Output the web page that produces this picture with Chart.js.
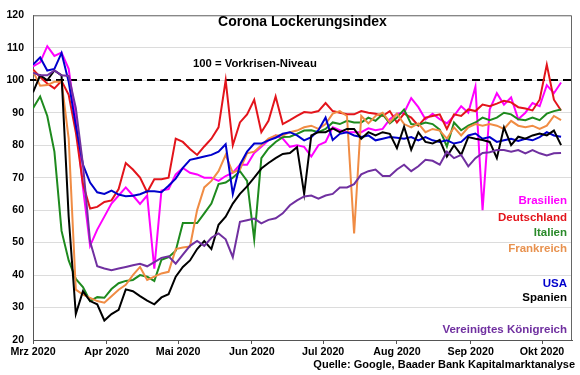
<!DOCTYPE html>
<html>
<head>
<meta charset="utf-8">
<script src="https://cdn.jsdelivr.net/npm/chart.js@4/dist/chart.umd.min.js"></script>
<style>
html,body{margin:0;padding:0;background:#fff;}
#wrap{width:580px;height:375px;position:relative;}
</style>
</head>
<body>
<div id="wrap"><canvas id="c" width="580" height="375"></canvas></div>
<script>
// Days since 1 March 2020
const days = [0,3,6,9,12,15,18,21,24,27,30,33,36,39,42,45,48,51,54,57,60,63,66,69,72,75,78,81,84,87,90,93,96,99,102,105,108,111,114,117,120,123,126,129,132,135,138,141,144,147,150,153,156,159,162,165,168,171,174,177,180,183,186,189,192,195,198,201,204,207,210,213,216,219,222];

const brasilien = [104.3,105.5,110.5,107.5,108.5,103.5,88,67,49,54,58,62,64.5,67,64.5,61.9,64.5,42,66,66.5,71,73,71.5,71,70,70,69,70.5,71.5,74,74,77.6,79.5,81.5,83,82,79.5,80,79.5,76.5,80,81,85.5,84.6,84,84,84,85.2,84.6,85,88,89.7,90,94.5,91.7,88,89.7,88,86.7,89,92,90,98,60,91,96,92.5,94.7,88,90,93,92,98.5,96,99.3];
const deutschland = [103.3,101,99,97.5,99.8,95.5,84,68,60.5,61,62.5,63,66.5,74.5,72.5,70,65.5,69.5,69.5,70,82,81,78.8,77,79.6,82,85.5,100,80,87,89.5,94,84,87.5,95,86.5,87.7,89,90.2,90,90.5,93,90.5,90,89.5,89.5,90.5,90,89.7,89,90.5,87,89.7,88.5,86,88.5,89,89.5,85,89.5,89,91,90.5,92.5,92,92.8,93.7,93.2,91.7,91.3,90.7,94,104.8,94,90.7];
const italien = [91.4,95,89,78,53.6,44.5,38.8,36.3,32,33.2,33,35.7,37.5,38.2,38.5,40,39.5,38.2,44.7,45.5,47.5,56,56,56,59,62,68,68.5,70,72,69,51,76,79,81,82.5,82.6,83.5,84.5,84.6,84,85,87,86.5,87.5,87,87,88.5,87.5,89.5,86.7,88.5,91,86.5,86.2,87,86.5,84.8,79.6,87,84.6,86,87,88.5,87.7,88.5,90,89.5,88,87.7,88.5,87.7,89.7,90.5,91];
const frankreich = [102.8,98.3,98.5,99.5,99.5,82,35.5,34,33,32,31.5,33.5,35.5,37,40,42.5,38.5,39.5,40.5,41,48,48.5,48.8,60,67,69,72,77,71.5,72.5,77.5,78,80,82,83,83,84,84.5,85.5,86,85,86.5,89.7,90.5,89,52.8,89,86.7,89,90,87,89.7,86.5,85.5,86.7,84,85,84.5,82,85.5,83,85.5,86.5,86,86.5,86,85,87.5,86,85.5,86,85,86,89,87.7];
const usa = [104.8,107,103,103.5,108.4,99.5,86,74,68.5,65.5,65,66,64.8,64.3,64.4,64.9,65.8,65.8,65.5,67.5,69.7,73,75.5,76,76.5,77,78,80.3,65,74,78,80.5,80.5,81.5,82.3,83.5,84,83,81.5,82.5,84.6,88.5,81.6,83.5,84,83,82.5,83,81.5,82,82.5,82.3,82,82.5,81.5,82.5,81.5,81,81.5,80.5,81,83,83.6,82,82.5,81,81.5,82,81.3,82,81.5,82.5,84,83,82.6];
const spanien = [96.3,101.5,100,103,101.5,58,28,35,32,31,26,28,29.3,35.6,35,33.5,32.1,31,33.1,34.1,39.5,42.5,44.5,48,50.5,48,55.5,58,62,65,67.3,70,72.8,74.5,76,77.3,77.6,79.4,65,83,84,84,85.2,84,85,85,82,84,83,84,83.5,79.1,85.7,78.6,84,81,80.5,81.6,76.5,80,77,82.5,82,81.6,81,76,85.5,80,82.6,82,83,83.6,83,84.5,80];
const vk = [102.3,101.5,101.5,103,101.5,101.3,91.5,74,50.3,42.7,42,41.5,42,42.5,43,43.5,42.7,44,45.3,45.8,43.5,46.3,49,50.5,49,51.5,52.8,51,45.5,56.4,56.9,57.4,55.9,57,57.5,59,61.5,63,64.2,64.5,63.5,64.5,65,67,67,68,71,72,72.5,70.5,70.5,72.5,74,72,73.5,75.5,75.2,74,78,76,77,73.5,76,77.6,77.8,78.5,78.5,78,78.5,77.5,78.5,77.5,76.8,77.5,77.6];

const monthDays = [0,31,61,92,122,153,184,214];
const monthLabels = ['Mrz 2020','Apr 2020','Mai 2020','Jun 2020','Jul 2020','Aug 2020','Sep 2020','Okt 2020'];
const yMin = 20, yMax = 120, yStep = 10;
const refLevel = 100;
const refLabel = '100 = Vorkrisen-Niveau';
const titleText = 'Corona Lockerungsindex';
const sourceText = 'Quelle: Google, Baader Bank Kapitalmarktanalyse';

const FF = '"Liberation Sans", Arial, Helvetica, sans-serif';

const series = [
  {name:'Brasilien', data:brasilien, color:'#FF00FF', text:'#FF00FF'},
  {name:'Deutschland', data:deutschland, color:'#E3141B', text:'#E3141B'},
  {name:'Italien', data:italien, color:'#1E8A1E', text:'#2A8A2A'},
  {name:'Frankreich', data:frankreich, color:'#F08C44', text:'#E8924F'},
  {name:'USA', data:usa, color:'#0000CC', text:'#0000CC'},
  {name:'Spanien', data:spanien, color:'#000000', text:'#000000'},
  {name:'Vereinigtes Königreich', data:vk, color:'#7030A0', text:'#7030A0'}
];

const datasets = series.map((s, i) => ({
  label: s.name,
  data: s.data.map((v, j) => ({x: days[j], y: v})),
  borderColor: s.color,
  backgroundColor: s.color,
  borderWidth: 2,
  pointRadius: 0,
  tension: 0,
  fill: false,
  order: series.length - i
}));

const decor = {
  id: 'decor',
  beforeDatasetsDraw(chart) {
    const {ctx, chartArea: a, scales: {y}} = chart;
    const py = Math.round(y.getPixelForValue(refLevel));
    ctx.save();
    ctx.strokeStyle = '#000';
    ctx.lineWidth = 2;
    ctx.setLineDash([8, 5]);
    ctx.beginPath();
    ctx.moveTo(a.left - 3, py);
    ctx.lineTo(a.right, py);
    ctx.stroke();
    ctx.restore();
  },
  afterDraw(chart) {
    const {ctx, chartArea: a} = chart;
    ctx.save();
    // frame
    ctx.strokeStyle = '#666';
    ctx.lineWidth = 1;
    ctx.beginPath();
    ctx.moveTo(a.left, a.top + 0.5);
    ctx.lineTo(a.right - 0.5, a.top + 0.5);
    ctx.lineTo(a.right - 0.5, a.bottom);
    ctx.stroke();
    // title
    ctx.fillStyle = '#000';
    ctx.textBaseline = 'middle';
    ctx.textAlign = 'center';
    ctx.font = 'bold 14px ' + FF;
    ctx.fillText(titleText, (a.left + a.right) / 2, 22.5);
    // reference label
    ctx.textAlign = 'left';
    ctx.font = 'bold 11.3px ' + FF;
    ctx.fillText(refLabel, 193, 63.5);
    // series labels
    const ys = [201, 217.5, 232.5, 249, 283.5, 298, 330];
    ctx.textAlign = 'right';
    ctx.font = 'bold 11.5px ' + FF;
    series.forEach((s, i) => {
      ctx.fillStyle = s.text;
      ctx.fillText(s.name, 567, ys[i]);
    });
    // source
    ctx.fillStyle = '#000';
    ctx.font = 'bold 11px ' + FF;
    ctx.fillText(sourceText, 575, 365);
    ctx.restore();
  }
};

new Chart(document.getElementById('c'), {
  type: 'line',
  data: {datasets},
  options: {
    responsive: false,
    animation: false,
    events: [],
    layout: {padding: {left: 0, right: 8, top: 10, bottom: 0}},
    plugins: {legend: {display: false}, tooltip: {enabled: false}, title: {display: false}},
    scales: {
      x: {
        type: 'linear',
        min: 0,
        max: 226.6,
        afterBuildTicks: (s) => { s.ticks = monthDays.map(v => ({value: v})); },
        afterFit: (s) => { s.height = 35; },
        ticks: {
          autoSkip: false,
          maxRotation: 0,
          minRotation: 0,
          padding: 2,
          color: '#000',
          font: {family: FF, size: 10.7, weight: 'bold'},
          callback: (v, i) => monthLabels[i]
        },
        grid: {drawOnChartArea: false, drawTicks: true, tickLength: 4, color: '#555'},
        border: {display: true, color: '#555', width: 1}
      },
      y: {
        min: yMin,
        max: yMax,
        afterFit: (s) => { s.width = 33; },
        ticks: {
          stepSize: yStep,
          padding: 9,
          color: '#000',
          font: {family: FF, size: 10.5, weight: 'bold'}
        },
        grid: {color: '#dcdcdc', drawTicks: false},
        border: {display: true, color: '#555', width: 1}
      }
    }
  },
  plugins: [decor]
});
</script>
</body>
</html>
